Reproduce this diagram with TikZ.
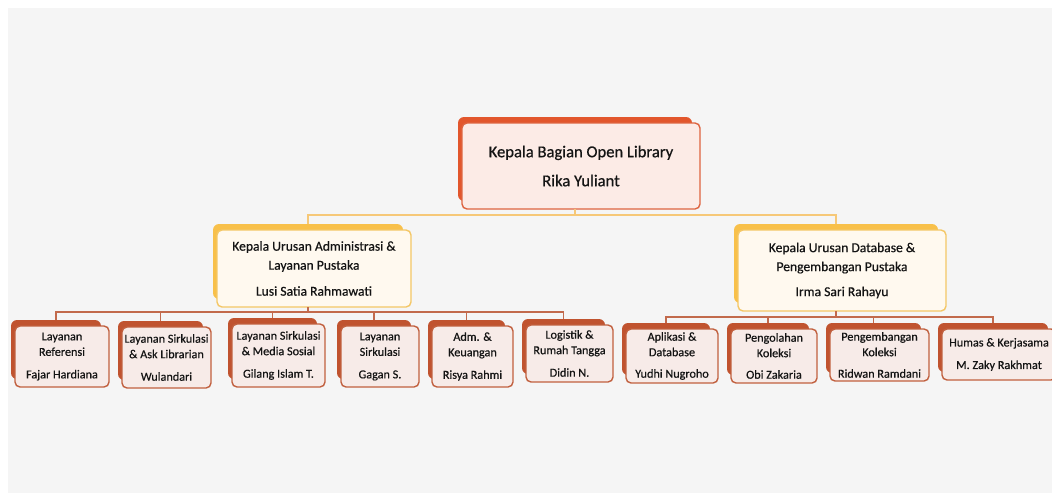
\documentclass[tikz,border=0pt]{standalone}
\usepackage{fontspec}
\setmainfont[FakeBold=0.6]{Carlito}
\definecolor{bgray}{HTML}{F5F5F5}
\definecolor{topback}{HTML}{E2562C}
\definecolor{topline}{HTML}{DE6440}
\definecolor{topfill}{HTML}{FCEBE6}
\definecolor{midback}{HTML}{F8C04A}
\definecolor{midline}{HTML}{F4C766}
\definecolor{midfill}{HTML}{FFF9EF}
\definecolor{lowback}{HTML}{C0532F}
\definecolor{lowline}{HTML}{C1603F}
\definecolor{lowfill}{HTML}{F7EBE8}
\definecolor{goldwire}{HTML}{F6C878}
\definecolor{rustwire}{HTML}{C26A4C}
\definecolor{txt}{HTML}{141414}
\tikzset{
  backbase/.style={rounded corners=6pt, inner sep=0pt, outer sep=0pt},
  frontbase/.style={rounded corners=5pt, inner sep=0pt, outer sep=0pt, line width=1.4pt, align=center, text=txt},
  topb/.style={backbase, fill=topback},
  topf/.style={frontbase, draw=topline, fill=topfill, font=\fontsize{16.6}{29}\selectfont},
  midb/.style={backbase, fill=midback},
  midf/.style={frontbase, draw=midline, fill=midfill, font=\fontsize{13.6}{19}\selectfont},
  lowb/.style={backbase, fill=lowback},
  lowf/.style={frontbase, draw=lowline, fill=lowfill, font=\fontsize{12.2}{15.5}\selectfont},
  goldw/.style={draw=goldwire, line width=1.3pt},
  rustw/.style={draw=rustwire, line width=1.3pt},
}
\newcommand\orgbox[7]{%
  \node[#2b, anchor=north west, minimum width={#5-#3-4}, minimum height={#6-#4-2}] (#1b) at ({#3-4},{#4-6}) {};
  \node[#2f, anchor=north west, minimum width={#5-#3}, minimum height={#6-#4}] (#1) at (#3,#4) {#7};
}
\begin{document}
\begin{tikzpicture}[x=1pt,y=-1pt]
\useasboundingbox (0,0) rectangle (1052,493);
\clip (0,0) rectangle (1052,493);
\fill[white] (0,0) rectangle (1052,493);
\fill[bgray] (8,8) rectangle (1052,493);

% top
\orgbox{top}{top}{462}{123}{700}{209}{Kepala Bagian Open Library\\Rika Yuliant}
% level 2
\orgbox{mida}{mid}{217}{230}{411}{307}{Kepala Urusan Administrasi \&\\Layanan Pustaka\\[7pt]Lusi Satia Rahmawati}
\orgbox{midd}{mid}{738}{230}{946}{311}{Kepala Urusan Database \&\\Pengembangan Pustaka\\[6pt]Irma Sari Rahayu}
% level 3 left
\orgbox{la}{low}{15}{326}{109}{387}{Layanan\\Referensi\\[7pt]Fajar Hardiana}
\orgbox{lb}{low}{122}{327}{211}{388}{Layanan Sirkulasi\\\& Ask Librarian\\[7pt]Wulandari}
\orgbox{lc}{low}{232}{324}{325}{387}{Layanan Sirkulasi\\\& Media Sosial\\[7pt]Gilang Islam T.}
\orgbox{ld}{low}{341}{326}{419}{387}{Layanan\\Sirkulasi\\[7pt]Gagan S.}
\orgbox{le}{low}{432}{326}{513}{387}{Adm. \&\\Keuangan\\[7pt]Risya Rahmi}
\orgbox{lf}{low}{526}{325}{613}{382}{Logistik \&\\Rumah Tangga\\[7pt]Didin N.}
% level 3 right
\orgbox{ra}{low}{626}{329}{718}{383}{Aplikasi \&\\Database\\[6pt]Yudhi Nugroho}
\orgbox{rb}{low}{731}{329}{817}{383}{Pengolahan\\Koleksi\\[6pt]Obi Zakaria}
\orgbox{rc}{low}{830}{329}{929}{381}{Pengembangan\\Koleksi\\[6pt]Ridwan Ramdani}
\orgbox{rd}{low}{942}{329}{1056}{380}{Humas \& Kerjasama\\[7pt]M. Zaky Rakhmat}

% connectors
\coordinate (busT) at (0,215);
\draw[goldw] (topb.south |- top.south) -- (topb.south |- busT);
\draw[goldw] (midab.north) |- (busT -| topb.south) -| (middb.north);

\coordinate (busL) at (0,312);
\draw[rustw] (midab.south |- mida.south) -- (midab.south |- busL);
\draw[rustw] (lab.north) |- (busL -| lfb.north) -- (lfb.north);
\foreach \n in {lb,lc,ld,le}{\draw[rustw] (\n b.north) -- (\n b.north |- busL);}

\coordinate (busR) at (0,317);
\draw[rustw] (middb.south |- midd.south) -- (middb.south |- busR);
\draw[rustw] (rab.north) |- (busR -| rdb.north) -- (rdb.north);
\foreach \n in {rb,rc}{\draw[rustw] (\n b.north) -- (\n b.north |- busR);}
\end{tikzpicture}
\end{document}
